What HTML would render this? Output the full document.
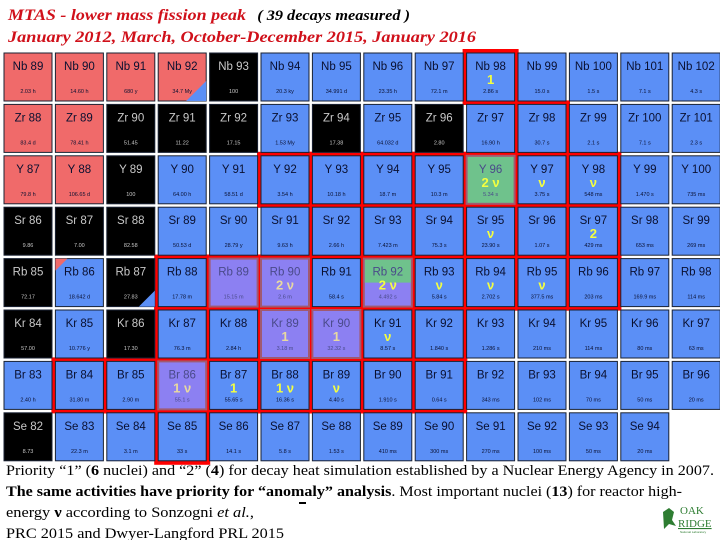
<!DOCTYPE html>
<html><head><meta charset="utf-8"><style>
body{margin:0;background:#fff;width:720px;height:540px;overflow:hidden}
svg{display:block}
</style></head><body>
<svg id="chart" width="720" height="540" xmlns="http://www.w3.org/2000/svg">
<text x="8" y="20" font-family="Liberation Serif, serif" font-style="italic" font-weight="bold" font-size="16" fill="#d0101a" textLength="402" lengthAdjust="spacingAndGlyphs">MTAS  - lower mass fission peak <tspan fill="#000" font-size="14.5" dx="6">( 39 decays measured )</tspan></text>
<text x="8" y="42" font-family="Liberation Serif, serif" font-style="italic" font-weight="bold" font-size="15.5" fill="#d0101a" textLength="468" lengthAdjust="spacingAndGlyphs">January 2012,  March, October-December 2015, January 2016</text>
<g id="hl"></g><g id="cells"></g>
<g font-family="Liberation Serif, serif" font-size="14.5" fill="#000">
<text x="6" y="475" textLength="708" lengthAdjust="spacingAndGlyphs">Priority “1” (<tspan font-weight="bold">6</tspan> nuclei) and “2” (<tspan font-weight="bold">4</tspan>)  for decay heat simulation established by a Nuclear Energy Agency in 2007.</text>
<text x="6" y="496" textLength="676" lengthAdjust="spacingAndGlyphs"><tspan font-weight="bold">The same activities have priority for “anomaly” analysis</tspan>. Most important nuclei (<tspan font-weight="bold">13</tspan>) for reactor high-</text>
<text x="6" y="517" textLength="248" lengthAdjust="spacingAndGlyphs">energy <tspan font-weight="bold">ν</tspan> according to Sonzogni <tspan font-style="italic">et al.</tspan>,</text>
<text x="6" y="538" textLength="278" lengthAdjust="spacingAndGlyphs">PRC 2015 and Dwyer-Langford PRL 2015</text>
<rect x="299" y="502" width="7" height="2" fill="#000"/>
</g>
<g>
<path d="M663 512 l6 -4 l5 4 l-2 8 l4 6 l-7 -2 l-5 5 z" fill="#2e7d32"/>
<text x="680" y="514" font-family="Liberation Serif, serif" font-size="11" fill="#2e7d32">OAK</text>
<text x="678" y="527" font-family="Liberation Serif, serif" font-size="11" fill="#2e7d32" text-decoration="underline">RIDGE</text>
<text x="680" y="533" font-family="Liberation Sans, sans-serif" font-size="3" fill="#2e7d32">National Laboratory</text>
</g>
</svg>
<script>
const elements=['Nb','Zr','Y','Sr','Rb','Kr','Br','Se'];
const startMass=[89,88,87,86,85,84,83,82];
const halfLives=[
['2.03 h','14.60 h','680 y','34.7 My','100','20.3 ky','34.991 d','23.35 h','72.1 m','2.86 s','15.0 s','1.5 s','7.1 s','4.3 s'],
['83.4 d','78.41 h','51.45','11.22','17.15','1.53 My','17.38','64.032 d','2.80','16.90 h','30.7 s','2.1 s','7.1 s','2.3 s'],
['79.8 h','106.65 d','100','64.00 h','58.51 d','3.54 h','10.18 h','18.7 m','10.3 m','5.34 s','3.75 s','548 ms','1.470 s','735 ms'],
['9.86','7.00','82.58','50.53 d','28.79 y','9.63 h','2.66 h','7.423 m','75.3 s','23.90 s','1.07 s','429 ms','653 ms','269 ms'],
['72.17','18.642 d','27.83','17.78 m','15.15 m','2.6 m','58.4 s','4.492 s','5.84 s','2.702 s','377.5 ms','203 ms','169.9 ms','114 ms'],
['57.00','10.776 y','17.30','76.3 m','2.84 h','3.18 m','32.32 s','8.57 s','1.840 s','1.286 s','210 ms','114 ms','80 ms','63 ms'],
['2.40 h','31.80 m','2.90 m','55.1 s','55.65 s','16.36 s','4.40 s','1.910 s','0.64 s','343 ms','102 ms','70 ms','50 ms','20 ms'],
['8.73','22.3 m','3.1 m','33 s','14.1 s','5.8 s','1.53 s','410 ms','300 ms','270 ms','100 ms','50 ms','20 ms','']];
// k=black stable, r=salmon, b=blue, p=purple, g=green, x=empty
const cellTypes=['rrrrkbbbbbbbbb','rrkkkbkbkbbbbb','rrkbbbbbbgbbbb','kkkbbbbbbbbbbb','kbkbppbbbbbbbb','kbkbbppbbbbbbb','bbbpbbbbbbbbbb','kbbbbbbbbbbbbx'];
const highlight=['00000000010000','00000000001000','00000111111100','00000011111100','00011111111100','00011111100000','01111111100000','00010000000000'];
const annotations={'0,9':'1','2,9':'2 ν','2,10':'ν','2,11':'ν','3,9':'ν','3,11':'2','4,5':'2 ν','4,7':'2 ν','4,8':'ν','4,9':'ν','4,10':'ν','5,5':'1','5,6':'1','5,7':'ν','6,3':'1 ν','6,4':'1','6,5':'1 ν','6,6':'ν'};
const colors={k:'#000',r:'#f06a6a',b:'#5b8ff6',p:'#8c80f2',g:'#6fc28c'};
const NS='http://www.w3.org/2000/svg';
const X=i=>4+i*51.4, Y=j=>53+j*51.4, W=48, H=48;
function mk(t,a,p){const e=document.createElementNS(NS,t);for(const k in a)e.setAttribute(k,a[k]);p.appendChild(e);return e;}
const hl=document.getElementById('hl'), cells=document.getElementById('cells');
elements.forEach((el,j)=>{for(let i=0;i<14;i++){if(highlight[j][i]==='1'){const r=mk('rect',{x:X(i)-4,y:Y(j)-4,width:W+8,height:H+8,fill:'#f00'},hl);

}}});
elements.forEach((el,j)=>{for(let i=0;i<14;i++){
 const t=cellTypes[j][i]; if(t==='x')continue;
 const name=el+' '+(startMass[j]+i);
 const g=mk('g',{},cells);
 
 
 const x=X(i),y=Y(j);
 mk('rect',{x:x,y:y,width:W,height:H,fill:colors[t],stroke:(t==='p'||t==='g')?'#a05a70':'#1a2233','stroke-width':(t==='p'||t==='g')?2:1},g);
 if(el==='Rb'&&startMass[j]+i===92){mk('rect',{x:x,y:y,width:W,height:H,fill:colors.p,stroke:'#a05a70','stroke-width':2},g);mk('rect',{x:x+1,y:y+1,width:W-2,height:23,fill:colors.g},g);}
 if(el==='Nb'&&i===3)mk('path',{d:`M${x+W} ${y+H-20} L${x+W} ${y+H} L${x+W-20} ${y+H} Z`,fill:colors.b},g);
 if(el==='Rb'&&i===1)mk('path',{d:`M${x} ${y} L${x+12} ${y} L${x} ${y+12} Z`,fill:colors.r},g);
 if(el==='Rb'&&i===2)mk('path',{d:`M${x+W} ${y+H-16} L${x+W} ${y+H} L${x+W-16} ${y+H} Z`,fill:colors.b},g);
 const fc=t==='k'?'#c8c8c8':(t==='p'||t==='g'||(el==='Rb'&&i===7))?'#4a4a8a':'#0a1030';
 const n=mk('text',{x:x+W/2,y:y+17,'text-anchor':'middle','font-family':'Liberation Sans, sans-serif','font-size':11.5,fill:fc},g);n.textContent=name;
 const h=mk('text',{x:x+W/2,y:y+40,'text-anchor':'middle','font-family':'Liberation Sans, sans-serif','font-size':5.5,fill:fc},g);h.textContent=halfLives[j][i];
 const a=annotations[j+','+i];
 if(a){const at=mk('text',{x:x+W/2,y:y+31,'text-anchor':'middle','font-family':'Liberation Sans, sans-serif','font-weight':'bold','font-size':13,fill:(t==='p')?'#e8d9a0':'#f4ff40'},g);at.textContent=a;}
}});
</script>
</body></html>
